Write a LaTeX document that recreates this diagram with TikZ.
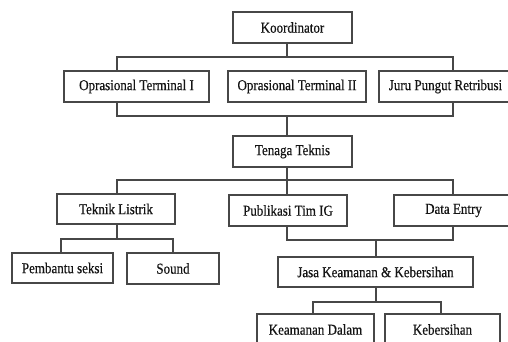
\documentclass[tikz,border=0pt]{standalone}
\usepackage{graphicx}
\usepackage{fontspec}
\setmainfont{Liberation Serif}[FakeBold=0.5]
% box labels are set slightly tall
\newcommand\lbl[1]{\scalebox{1}[1.16]{#1}}
\begin{document}
\begin{tikzpicture}[x=1pt,y=-1pt,
  box/.style={draw=black!72, line width=1.1pt, fill=white, inner sep=0pt,
    minimum height=31pt, font=\fontsize{13}{15}\selectfont, text=black!92},
  link/.style={draw=black!72, line width=1.1pt}]
\useasboundingbox (0,0) rectangle (508,341);
\clip (0,0) rectangle (508,341);

% boxes
\node[box, minimum width=119pt] (koord) at (292.5,27.5) {\lbl{Koordinator}};
\node[box, minimum width=145pt] (opr1) at (136.5,86.5) {\lbl{Oprasional Terminal I}};
\node[box, minimum width=138pt] (opr2) at (297,86.5) {\lbl{Oprasional Terminal II}};
\node[box, minimum width=133pt] (juru) at (445.5,86.5) {\lbl{Juru Pungut Retribusi}};
\node[box, minimum width=119pt] (tenaga) at (292.5,151.5) {\lbl{Tenaga Teknis}};
\node[box, minimum width=118pt, minimum height=30pt] (teknik) at (116,209) {\lbl{Teknik Listrik}};
\node[box, minimum width=118pt] (publikasi) at (288,210.5) {\lbl{Publikasi Tim IG}};
\node[box, minimum width=119pt] (data) at (453.5,210.5) {\lbl{Data Entry}};
\node[box, minimum width=101pt, minimum height=30pt] (pembantu) at (62.5,268) {\lbl{Pembantu seksi}};
\node[box, minimum width=92pt] (sound) at (173,268.5) {\lbl{Sound}};
\node[box, minimum width=195pt, minimum height=30pt] (jasa) at (375.5,272) {\lbl{Jasa Keamanan \& Kebersihan}};
\node[box, minimum width=117pt] (keamanan) at (315.5,329.5) {\lbl{Keamanan Dalam}};
\node[box, minimum width=115pt] (kebersihan) at (442.5,329.5) {\lbl{Kebersihan}};

% bus columns and junctions
\coordinate (xl) at (117,0);
\coordinate (xm) at (287,0);
\coordinate (xr) at (453,0);
\coordinate (xp) at (61,0);
\coordinate (xs) at (173,0);
\coordinate (xk) at (313,0);
\coordinate (xb) at (441,0);
\coordinate (b1) at (287,57);
\coordinate (b2) at (287,116);
\coordinate (b3) at (287,180);
\coordinate (b4) at (376,240);
\coordinate (b5) at (117,239);
\coordinate (b6) at (376,302);

% connectors
\draw[link] (koord.south -| xm) -- (b1);
\draw[link] (opr1.north -| xl) |- (b1) -| (juru.north -| xr);
\draw[link] (opr1.south -| xl) |- (b2) -| (juru.south -| xr);
\draw[link] (b2) -- (tenaga.north -| xm);
\draw[link] (tenaga.south -| xm) -- (b3);
\draw[link] (teknik.north -| xl) |- (b3) -| (data.north -| xr);
\draw[link] (b3) -- (publikasi.north -| xm);
\draw[link] (publikasi.south -| xm) |- (b4) -| (data.south -| xr);
\draw[link] (b4) -- (jasa.north -| b4);
\draw[link] (teknik.south -| xl) -- (b5);
\draw[link] (pembantu.north -| xp) |- (b5) -| (sound.north -| xs);
\draw[link] (jasa.south -| b4) -- (b6);
\draw[link] (keamanan.north -| xk) |- (b6) -| (kebersihan.north -| xb);
\end{tikzpicture}
\end{document}
